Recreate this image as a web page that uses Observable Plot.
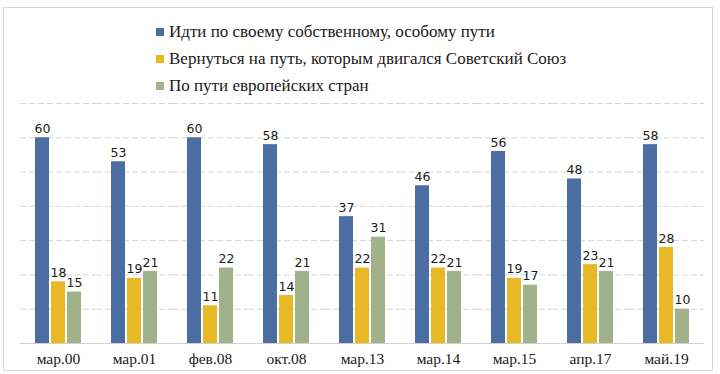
<!DOCTYPE html>
<html>
<head>
<meta charset="utf-8">
<script src="https://cdn.jsdelivr.net/npm/d3@7"></script>
<script src="https://cdn.jsdelivr.net/npm/@observablehq/plot@0.6"></script>
<style>
  html, body { margin: 0; padding: 0; background: #fff; }
  #wrap { position: relative; width: 720px; height: 374px; overflow: hidden; }
  #border { position: absolute; left: 3px; top: 7px; width: 710px; height: 364px; border: 1px solid #d9d9d9; box-sizing: border-box; }
  #legend { position: absolute; left: 156px; top: 19px; font-family: "Liberation Serif", serif; font-size: 17px; color: #1a1a1a; }
  .item { height: 26.7px; display: flex; align-items: center; white-space: nowrap; }
  .sw { width: 8px; height: 8px; margin-right: 5px; flex: none; }
  #chart { position: absolute; left: 0; top: 0; }
</style>
</head>
<body>
<div id="wrap">
  <div id="border"></div>
  <div id="chart"></div>
  <div id="legend"></div>
</div>
<script>
const categories = ["мар.00", "мар.01", "фев.08", "окт.08", "мар.13", "мар.14", "мар.15", "апр.17", "май.19"];
const seriesNames = [
  "Идти по своему собственному, особому пути",
  "Вернуться на путь, которым двигался Советский Союз",
  "По пути европейских стран"
];
const seriesColors = ["#4b6fa2", "#e8b926", "#a1b18a"];
const ownPath = [60, 53, 60, 58, 37, 46, 56, 48, 58];
const sovietPath = [18, 19, 11, 14, 22, 22, 19, 23, 28];
const europeanPath = [15, 21, 22, 21, 31, 21, 17, 21, 10];
const gridTicks = [10, 20, 30, 40, 50, 60, 70];

const seriesValues = [ownPath, sovietPath, europeanPath];
const data = [];
categories.forEach((c, i) => {
  seriesNames.forEach((s, j) => {
    data.push({cat: c, series: s, value: seriesValues[j][i]});
  });
});

const chart = Plot.plot({
  width: 720,
  height: 374,
  marginTop: 103,
  marginBottom: 31,
  marginLeft: 19,
  marginRight: 16,
  style: {fontFamily: "'Liberation Serif', serif", fontSize: "15.5px", color: "#1a1a1a", background: "transparent"},
  fx: {domain: categories, padding: 0, label: null, tickSize: 0, tickPadding: 9},
  x: {domain: seriesNames, axis: null, paddingInner: 0.13, paddingOuter: 0.87},
  y: {domain: [0, 70], axis: null},
  color: {domain: seriesNames, range: seriesColors},
  marks: [
    Plot.ruleY(gridTicks, {stroke: "#d6d6d6", strokeWidth: 1, strokeDasharray: "6,3"}),
    Plot.ruleY([0], {stroke: "#cfcfcf", strokeWidth: 1}),
    Plot.barY(data, {fx: "cat", x: "series", y: "value", fill: "series"}),
    Plot.text(data, {fx: "cat", x: "series", y: "value", text: d => String(d.value), lineAnchor: "bottom", dy: -5,
      fontFamily: "'DejaVu Sans', sans-serif", fontSize: 12.5, fill: "#1a1a1a"})
  ]
});
document.getElementById("chart").appendChild(chart);

const legend = document.getElementById("legend");
seriesNames.forEach((s, j) => {
  const item = document.createElement("div");
  item.className = "item";
  const sw = document.createElement("span");
  sw.className = "sw";
  sw.style.background = seriesColors[j];
  const t = document.createElement("span");
  t.textContent = s;
  item.appendChild(sw);
  item.appendChild(t);
  legend.appendChild(item);
});
</script>
</body>
</html>
